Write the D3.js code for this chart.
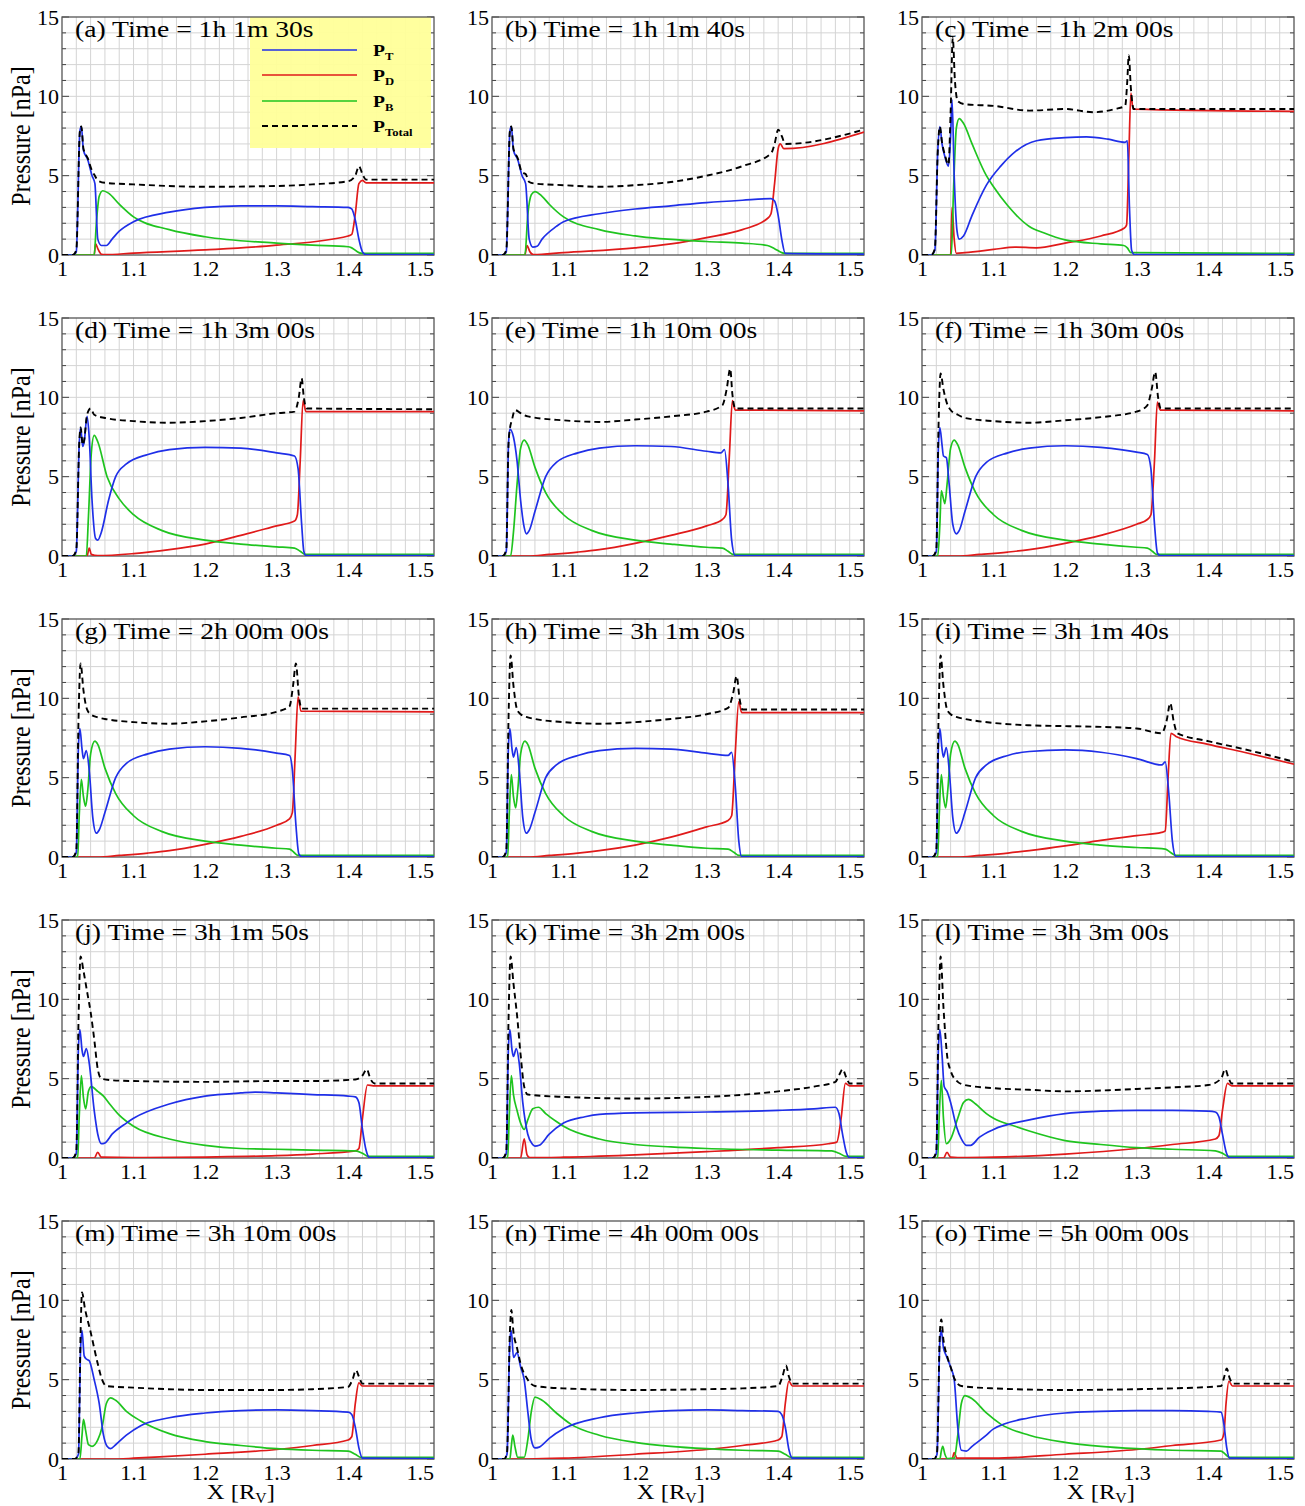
<!DOCTYPE html>
<html><head><meta charset="utf-8">
<script src="https://cdn.jsdelivr.net/npm/d3@7"></script>
<style>body{margin:0;background:#fff}svg{display:block}text{font-family:"Liberation Serif","DejaVu Serif",serif}</style>
</head><body><div id="chart"></div>
<script>
// ---------------- DATA ----------------
const panelLabels = ["(a) Time = 1h 1m 30s","(b) Time = 1h 1m 40s","(c) Time = 1h 2m 00s",
"(d) Time = 1h 3m 00s","(e) Time = 1h 10m 00s","(f) Time = 1h 30m 00s",
"(g) Time = 2h 00m 00s","(h) Time = 3h 1m 30s","(i) Time = 3h 1m 40s",
"(j) Time = 3h 1m 50s","(k) Time = 3h 2m 00s","(l) Time = 3h 3m 00s",
"(m) Time = 3h 10m 00s","(n) Time = 4h 00m 00s","(o) Time = 5h 00m 00s"];
const xTicks = [1,1.1,1.2,1.3,1.4,1.5];
const xTickLabels = ["1","1.1","1.2","1.3","1.4","1.5"];
const yTicks = [0,5,10,15];
const seriesNames = ["T","D","B","Total"];

// (a)
const PT_a=[[1,0],[1.015,0],[1.02,0.2],[1.025,7.8],[1.027,8.1],[1.03,6.6],[1.036,6.0],[1.042,5.0],[1.046,4.5],[1.05,1.0],[1.055,0.6],[1.062,0.6],[1.07,1.0],[1.08,1.5],[1.1,2.1],[1.15,2.7],[1.2,3.0],[1.25,3.1],[1.3,3.1],[1.35,3.05],[1.4,3.0],[1.405,2.9],[1.41,2.2],[1.415,1.0],[1.42,0.2],[1.425,0.02],[1.52,0.02]];
const PD_a=[[1,0],[1.045,0],[1.047,0.7],[1.05,0.4],[1.055,0.05],[1.06,0.02],[1.1,0.12],[1.2,0.32],[1.3,0.62],[1.4,1.2],[1.405,1.3],[1.41,2.6],[1.415,4.5],[1.42,4.7],[1.425,4.55],[1.52,4.55]];
const PB_a=[[1,0],[1.045,0],[1.048,2.0],[1.052,3.7],[1.057,4.05],[1.065,3.9],[1.08,3.2],[1.1,2.4],[1.15,1.6],[1.2,1.15],[1.3,0.75],[1.35,0.62],[1.4,0.52],[1.405,0.45],[1.415,0.15],[1.42,0.1],[1.52,0.1]];
const PTot_a=[[1,0],[1.015,0],[1.02,0.3],[1.025,7.8],[1.027,8.1],[1.03,6.7],[1.036,6.1],[1.042,5.3],[1.046,5.0],[1.05,4.7],[1.06,4.55],[1.1,4.45],[1.2,4.3],[1.3,4.35],[1.35,4.45],[1.4,4.65],[1.41,5.0],[1.415,5.6],[1.42,5.1],[1.425,4.75],[1.52,4.75]];
// (b)
const PT_b=[[1,0],[1.015,0],[1.02,0.2],[1.025,7.8],[1.027,8.1],[1.03,6.6],[1.036,6.0],[1.042,5.0],[1.047,4.5],[1.052,1.0],[1.057,0.5],[1.063,0.55],[1.07,1.0],[1.09,1.8],[1.1,2.1],[1.15,2.6],[1.2,2.9],[1.25,3.1],[1.3,3.3],[1.35,3.45],[1.39,3.55],[1.395,3.4],[1.4,2.5],[1.405,1.0],[1.41,0.1],[1.52,0.05]];
const PD_b=[[1,0],[1.046,0],[1.049,0.6],[1.053,0.2],[1.058,0.02],[1.1,0.15],[1.2,0.45],[1.25,0.7],[1.3,1.1],[1.35,1.6],[1.385,2.3],[1.39,2.6],[1.395,4.5],[1.4,6.7],[1.403,7.0],[1.408,6.7],[1.52,7.75]];
const PB_b=[[1,0],[1.046,0],[1.05,2.5],[1.055,3.8],[1.06,4.0],[1.07,3.7],[1.08,3.2],[1.1,2.4],[1.15,1.6],[1.2,1.2],[1.3,0.85],[1.35,0.75],[1.385,0.6],[1.395,0.4],[1.405,0.15],[1.41,0.1],[1.52,0.1]];
const PTot_b=[[1,0],[1.015,0],[1.02,0.3],[1.025,7.8],[1.027,8.1],[1.03,6.7],[1.036,6.1],[1.042,5.2],[1.047,5.1],[1.052,4.6],[1.06,4.5],[1.1,4.4],[1.15,4.3],[1.2,4.4],[1.25,4.6],[1.3,5.0],[1.35,5.6],[1.39,6.4],[1.395,7.0],[1.4,7.9],[1.405,7.5],[1.41,7.0],[1.52,7.9]];
// (c)
const PT_c=[[1,0],[1.013,0],[1.018,0.3],[1.022,6.5],[1.025,8.1],[1.028,7.0],[1.032,6.2],[1.037,5.6],[1.04,7.5],[1.042,9.8],[1.045,5.0],[1.049,1.5],[1.052,1.0],[1.058,1.2],[1.07,2.5],[1.09,4.4],[1.11,5.6],[1.13,6.5],[1.16,7.2],[1.2,7.4],[1.23,7.45],[1.26,7.3],[1.284,7.1],[1.287,7.2],[1.29,3.0],[1.293,0.3],[1.297,0.02],[1.52,0.02]];
const PD_c=[[1,0],[1.04,0],[1.042,3.0],[1.045,1.0],[1.048,0.1],[1.06,0.15],[1.1,0.35],[1.13,0.5],[1.16,0.45],[1.2,0.75],[1.25,1.2],[1.283,1.7],[1.286,1.9],[1.289,6.0],[1.292,10.2],[1.295,9.2],[1.52,9.05]];
const PB_c=[[1,0],[1.041,0],[1.044,4.0],[1.048,8.0],[1.052,8.6],[1.058,8.3],[1.07,7.0],[1.09,5.0],[1.1,4.3],[1.12,3.1],[1.15,1.8],[1.17,1.4],[1.2,0.95],[1.25,0.7],[1.282,0.6],[1.287,0.45],[1.292,0.15],[1.52,0.1]];
const PTot_c=[[1,0],[1.013,0],[1.018,0.4],[1.022,6.5],[1.025,8.1],[1.028,7.1],[1.032,6.3],[1.037,5.7],[1.04,9.0],[1.043,13.7],[1.046,11.0],[1.05,9.7],[1.06,9.5],[1.1,9.4],[1.15,9.1],[1.2,9.2],[1.24,9.0],[1.27,9.2],[1.284,9.4],[1.287,11.0],[1.289,12.6],[1.292,10.5],[1.296,9.2],[1.52,9.2]];
// (d)
const PT_d=[[1,0],[1.015,0],[1.02,0.3],[1.024,7.0],[1.026,8.1],[1.029,6.9],[1.031,7.2],[1.035,8.8],[1.038,7.5],[1.042,3.5],[1.047,1.1],[1.05,1.0],[1.055,1.5],[1.065,3.5],[1.075,5.0],[1.09,5.8],[1.12,6.4],[1.15,6.7],[1.2,6.85],[1.25,6.8],[1.3,6.5],[1.325,6.3],[1.33,5.5],[1.335,2.0],[1.338,0.3],[1.341,0.02],[1.52,0.02]];
const PD_d=[[1,0],[1.035,0],[1.038,0.5],[1.041,0.1],[1.05,0.02],[1.1,0.15],[1.15,0.4],[1.2,0.75],[1.25,1.3],[1.3,1.9],[1.325,2.2],[1.329,2.6],[1.333,6.0],[1.337,9.8],[1.341,9.1],[1.52,9.1]];
const PB_d=[[1,0],[1.034,0],[1.037,2.5],[1.041,6.5],[1.045,7.6],[1.05,7.2],[1.063,5.0],[1.08,3.6],[1.1,2.6],[1.14,1.6],[1.2,1.0],[1.25,0.75],[1.3,0.58],[1.325,0.5],[1.333,0.3],[1.34,0.1],[1.52,0.1]];
const PTot_d=[[1,0],[1.015,0],[1.02,0.4],[1.024,7.0],[1.026,8.1],[1.029,7.0],[1.031,7.3],[1.035,8.9],[1.04,9.3],[1.045,8.9],[1.06,8.7],[1.1,8.5],[1.15,8.4],[1.2,8.5],[1.25,8.7],[1.3,9.0],[1.325,9.1],[1.331,10.0],[1.335,11.2],[1.338,10.0],[1.342,9.3],[1.52,9.25]];
// (e)
const PT_e=[[1,0],[1.015,0],[1.02,0.3],[1.023,7.0],[1.025,8.0],[1.03,7.5],[1.035,6.0],[1.04,3.5],[1.045,1.8],[1.048,1.4],[1.052,1.6],[1.06,2.8],[1.075,5.0],[1.09,5.9],[1.12,6.5],[1.15,6.8],[1.2,6.95],[1.25,6.9],[1.3,6.6],[1.32,6.5],[1.325,6.7],[1.33,4.5],[1.335,1.0],[1.34,0.02],[1.52,0.02]];
const PD_e=[[1,0],[1.05,0],[1.08,0.1],[1.12,0.25],[1.15,0.4],[1.2,0.8],[1.25,1.3],[1.3,1.9],[1.322,2.3],[1.327,2.6],[1.332,6.5],[1.336,9.8],[1.34,9.2],[1.52,9.15]];
const PB_e=[[1,0],[1.026,0],[1.03,1.5],[1.035,4.5],[1.04,6.8],[1.045,7.3],[1.05,7.0],[1.06,5.6],[1.075,4.0],[1.1,2.6],[1.14,1.6],[1.2,1.0],[1.25,0.75],[1.3,0.55],[1.322,0.5],[1.33,0.3],[1.337,0.1],[1.52,0.1]];
const PTot_e=[[1,0],[1.015,0],[1.02,0.4],[1.023,7.0],[1.025,8.0],[1.028,8.6],[1.032,9.2],[1.04,9.0],[1.05,8.8],[1.1,8.55],[1.15,8.45],[1.2,8.6],[1.25,8.8],[1.3,9.1],[1.322,9.5],[1.328,10.5],[1.333,11.8],[1.336,10.2],[1.34,9.3],[1.52,9.3]];
// (f)
const PT_f=[[1,0],[1.015,0],[1.02,0.3],[1.023,7.0],[1.025,8.1],[1.028,7.0],[1.03,6.3],[1.034,6.2],[1.038,4.5],[1.043,2.0],[1.048,1.4],[1.052,1.6],[1.06,2.8],[1.075,5.0],[1.09,5.9],[1.12,6.5],[1.15,6.8],[1.2,6.95],[1.25,6.85],[1.3,6.55],[1.315,6.4],[1.32,5.5],[1.325,2.0],[1.329,0.2],[1.333,0.02],[1.52,0.02]];
const PD_f=[[1,0],[1.05,0],[1.08,0.1],[1.12,0.25],[1.15,0.4],[1.2,0.8],[1.25,1.3],[1.3,2.0],[1.315,2.3],[1.32,2.6],[1.325,6.0],[1.329,9.7],[1.333,9.2],[1.52,9.15]];
const PB_f=[[1,0],[1.022,0],[1.025,2.0],[1.027,4.1],[1.03,3.6],[1.032,3.3],[1.035,4.5],[1.04,6.8],[1.045,7.3],[1.05,7.0],[1.06,5.6],[1.075,4.0],[1.1,2.6],[1.14,1.6],[1.2,1.0],[1.25,0.75],[1.3,0.55],[1.315,0.5],[1.322,0.3],[1.328,0.1],[1.52,0.1]];
const PTot_f=[[1,0],[1.015,0],[1.02,0.4],[1.023,8.0],[1.026,11.5],[1.03,10.5],[1.035,9.6],[1.04,9.2],[1.05,8.9],[1.06,8.7],[1.1,8.5],[1.15,8.4],[1.2,8.55],[1.25,8.75],[1.3,9.1],[1.315,9.5],[1.321,10.5],[1.326,11.6],[1.33,10.0],[1.334,9.3],[1.52,9.3]];
// (g)
const PT_g=[[1,0],[1.015,0],[1.02,0.3],[1.023,7.0],[1.025,8.1],[1.028,6.8],[1.03,6.2],[1.034,6.7],[1.038,5.5],[1.043,2.5],[1.048,1.5],[1.052,1.7],[1.06,2.8],[1.075,5.0],[1.09,5.9],[1.12,6.5],[1.15,6.8],[1.2,6.95],[1.25,6.85],[1.3,6.55],[1.318,6.4],[1.322,5.5],[1.327,2.0],[1.331,0.2],[1.335,0.02],[1.52,0.02]];
const PD_g=[[1,0],[1.05,0],[1.08,0.1],[1.12,0.25],[1.15,0.4],[1.2,0.8],[1.25,1.3],[1.3,2.0],[1.318,2.4],[1.322,2.8],[1.326,6.5],[1.33,10.1],[1.334,9.2],[1.52,9.15]];
const PB_g=[[1,0],[1.022,0],[1.024,2.5],[1.027,4.9],[1.03,3.8],[1.033,3.2],[1.036,4.2],[1.04,6.5],[1.046,7.3],[1.05,7.1],[1.06,5.6],[1.075,4.0],[1.1,2.6],[1.14,1.6],[1.2,1.0],[1.25,0.75],[1.3,0.55],[1.318,0.5],[1.324,0.3],[1.33,0.1],[1.52,0.1]];
const PTot_g=[[1,0],[1.015,0],[1.02,0.4],[1.023,8.5],[1.026,12.2],[1.03,10.5],[1.035,9.3],[1.04,9.0],[1.05,8.8],[1.06,8.7],[1.1,8.5],[1.15,8.4],[1.2,8.55],[1.25,8.8],[1.3,9.15],[1.318,9.5],[1.323,10.8],[1.327,12.2],[1.331,10.2],[1.335,9.35],[1.52,9.35]];
// (h)
const PT_h=[[1,0],[1.015,0],[1.02,0.3],[1.023,7.0],[1.025,8.1],[1.028,6.8],[1.03,6.3],[1.034,6.9],[1.038,5.5],[1.043,2.5],[1.048,1.5],[1.052,1.7],[1.06,2.8],[1.075,5.0],[1.09,5.8],[1.12,6.4],[1.15,6.7],[1.2,6.85],[1.25,6.8],[1.3,6.55],[1.33,6.4],[1.335,6.6],[1.34,4.5],[1.345,1.0],[1.349,0.02],[1.52,0.02]];
const PD_h=[[1,0],[1.05,0],[1.08,0.1],[1.12,0.25],[1.15,0.4],[1.2,0.75],[1.25,1.25],[1.3,1.9],[1.33,2.3],[1.335,2.6],[1.34,6.5],[1.345,9.8],[1.349,9.1],[1.52,9.1]];
const PB_h=[[1,0],[1.022,0],[1.024,2.5],[1.027,5.2],[1.03,3.8],[1.033,3.1],[1.036,4.2],[1.04,6.5],[1.046,7.3],[1.05,7.1],[1.06,5.6],[1.075,4.0],[1.1,2.6],[1.14,1.6],[1.2,1.0],[1.25,0.75],[1.3,0.55],[1.33,0.5],[1.338,0.3],[1.345,0.1],[1.52,0.1]];
const PTot_h=[[1,0],[1.015,0],[1.02,0.4],[1.023,8.5],[1.026,12.7],[1.03,10.8],[1.035,9.3],[1.04,9.0],[1.05,8.8],[1.06,8.7],[1.1,8.5],[1.15,8.4],[1.2,8.5],[1.25,8.7],[1.3,9.0],[1.33,9.4],[1.337,10.3],[1.342,11.4],[1.346,10.0],[1.35,9.3],[1.52,9.3]];
// (i)
const PT_i=[[1,0],[1.015,0],[1.02,0.3],[1.023,7.0],[1.025,8.1],[1.028,6.8],[1.03,6.3],[1.034,6.9],[1.038,5.5],[1.043,2.5],[1.048,1.5],[1.052,1.7],[1.06,2.8],[1.075,5.0],[1.09,5.8],[1.12,6.4],[1.15,6.65],[1.2,6.75],[1.25,6.6],[1.3,6.2],[1.335,5.8],[1.34,6.0],[1.345,4.0],[1.35,1.0],[1.355,0.02],[1.52,0.02]];
const PD_i=[[1,0],[1.05,0],[1.08,0.1],[1.12,0.25],[1.15,0.4],[1.2,0.7],[1.25,1.05],[1.3,1.35],[1.335,1.55],[1.34,1.65],[1.344,5.0],[1.348,7.8],[1.355,7.6],[1.4,7.1],[1.45,6.6],[1.52,5.85]];
const PB_i=[[1,0],[1.022,0],[1.024,2.5],[1.027,5.2],[1.03,3.8],[1.033,3.1],[1.036,4.2],[1.04,6.5],[1.046,7.3],[1.05,7.1],[1.06,5.6],[1.075,4.0],[1.1,2.6],[1.14,1.6],[1.2,1.0],[1.25,0.75],[1.3,0.6],[1.34,0.5],[1.347,0.3],[1.355,0.1],[1.52,0.1]];
const PTot_i=[[1,0],[1.015,0],[1.02,0.4],[1.023,8.5],[1.026,12.7],[1.03,10.8],[1.035,9.3],[1.04,9.0],[1.05,8.8],[1.06,8.7],[1.1,8.45],[1.15,8.3],[1.2,8.25],[1.25,8.2],[1.3,8.1],[1.335,7.8],[1.342,8.6],[1.347,9.7],[1.352,8.5],[1.357,7.8],[1.4,7.3],[1.45,6.8],[1.52,6.0]];
// (j)
const PT_j=[[1,0],[1.015,0],[1.02,0.3],[1.023,7.0],[1.025,8.1],[1.028,6.8],[1.03,6.4],[1.034,6.9],[1.038,6.0],[1.045,3.0],[1.05,1.5],[1.055,0.9],[1.06,0.95],[1.07,1.5],[1.09,2.2],[1.1,2.5],[1.15,3.4],[1.2,3.9],[1.25,4.1],[1.27,4.15],[1.3,4.1],[1.35,4.0],[1.4,3.9],[1.41,3.85],[1.415,3.5],[1.42,1.8],[1.425,0.5],[1.43,0.02],[1.52,0.02]];
const PD_j=[[1,0],[1.045,0],[1.05,0.35],[1.055,0.05],[1.1,0.02],[1.2,0.06],[1.3,0.15],[1.35,0.25],[1.41,0.45],[1.415,0.6],[1.42,2.5],[1.427,4.6],[1.435,4.55],[1.52,4.55]];
const PB_j=[[1,0],[1.022,0],[1.024,2.5],[1.027,5.2],[1.03,3.8],[1.033,3.1],[1.037,4.2],[1.041,4.5],[1.05,4.2],[1.058,3.9],[1.065,3.5],[1.08,2.7],[1.1,2.0],[1.15,1.2],[1.2,0.8],[1.25,0.6],[1.3,0.55],[1.35,0.5],[1.41,0.45],[1.42,0.3],[1.428,0.1],[1.52,0.1]];
const PTot_j=[[1,0],[1.015,0],[1.02,0.4],[1.023,8.5],[1.026,12.7],[1.03,11.8],[1.035,10.5],[1.04,9.2],[1.045,7.5],[1.05,5.6],[1.055,5.0],[1.07,4.9],[1.1,4.85],[1.2,4.8],[1.3,4.85],[1.35,4.85],[1.41,4.95],[1.42,5.2],[1.426,5.6],[1.431,5.0],[1.437,4.7],[1.52,4.7]];
// (k)
const PT_k=[[1,0],[1.015,0],[1.02,0.3],[1.023,7.0],[1.025,8.1],[1.028,6.8],[1.03,6.4],[1.034,6.9],[1.038,6.0],[1.043,3.5],[1.05,1.5],[1.056,0.9],[1.06,0.75],[1.066,0.8],[1.08,1.5],[1.1,2.2],[1.13,2.6],[1.15,2.75],[1.2,2.85],[1.3,2.9],[1.4,3.0],[1.45,3.1],[1.48,3.2],[1.485,2.8],[1.49,1.5],[1.495,0.4],[1.5,0.02],[1.52,0.02]];
const PD_k=[[1,0],[1.04,0],[1.045,1.2],[1.049,0.2],[1.053,0.02],[1.1,0.05],[1.2,0.2],[1.3,0.4],[1.4,0.65],[1.47,0.9],[1.482,1.0],[1.488,2.5],[1.494,4.7],[1.5,4.55],[1.52,4.55]];
const PB_k=[[1,0],[1.022,0],[1.024,2.5],[1.027,5.2],[1.03,4.0],[1.035,3.0],[1.04,2.2],[1.045,1.8],[1.05,2.4],[1.057,3.1],[1.065,3.2],[1.075,2.8],[1.09,2.3],[1.1,2.0],[1.15,1.2],[1.2,0.85],[1.25,0.7],[1.3,0.6],[1.4,0.5],[1.475,0.45],[1.485,0.3],[1.495,0.1],[1.52,0.1]];
const PTot_k=[[1,0],[1.015,0],[1.02,0.4],[1.023,8.5],[1.026,12.7],[1.03,11.0],[1.035,9.0],[1.04,6.5],[1.045,4.5],[1.05,4.0],[1.1,3.85],[1.2,3.75],[1.3,3.85],[1.4,4.2],[1.45,4.5],[1.48,4.8],[1.486,5.3],[1.49,5.6],[1.495,5.1],[1.5,4.7],[1.52,4.7]];
// (l)
const PT_l=[[1,0],[1.015,0],[1.02,0.3],[1.023,7.0],[1.025,8.1],[1.028,6.5],[1.031,4.5],[1.035,4.2],[1.04,3.5],[1.048,2.0],[1.055,1.2],[1.062,0.8],[1.068,0.8],[1.08,1.3],[1.1,1.8],[1.15,2.4],[1.2,2.8],[1.25,2.95],[1.3,3.0],[1.35,3.0],[1.4,2.95],[1.41,2.9],[1.415,2.6],[1.42,1.5],[1.425,0.4],[1.43,0.02],[1.52,0.02]];
const PD_l=[[1,0],[1.03,0],[1.035,0.35],[1.04,0.05],[1.05,0.02],[1.1,0.05],[1.2,0.25],[1.3,0.6],[1.35,0.85],[1.41,1.2],[1.415,1.4],[1.42,3.0],[1.427,4.7],[1.433,4.55],[1.52,4.55]];
const PB_l=[[1,0],[1.022,0],[1.024,2.5],[1.027,4.9],[1.03,2.5],[1.034,0.9],[1.04,1.2],[1.05,2.5],[1.058,3.5],[1.065,3.7],[1.075,3.4],[1.09,2.8],[1.1,2.5],[1.13,2.0],[1.15,1.7],[1.2,1.1],[1.25,0.85],[1.3,0.65],[1.35,0.55],[1.41,0.45],[1.42,0.3],[1.428,0.1],[1.52,0.1]];
const PTot_l=[[1,0],[1.015,0],[1.02,0.4],[1.023,8.5],[1.026,12.7],[1.03,9.5],[1.035,6.5],[1.04,5.5],[1.05,4.8],[1.06,4.6],[1.1,4.4],[1.15,4.3],[1.2,4.2],[1.3,4.35],[1.35,4.45],[1.4,4.6],[1.418,5.0],[1.424,5.6],[1.428,5.1],[1.433,4.7],[1.52,4.7]];
// (m)
const PT_m=[[1,0],[1.018,0],[1.023,0.3],[1.026,7.0],[1.028,8.1],[1.031,6.5],[1.034,6.3],[1.038,6.2],[1.045,5.0],[1.052,3.5],[1.058,1.5],[1.063,0.8],[1.068,0.65],[1.075,0.9],[1.09,1.5],[1.11,2.1],[1.15,2.6],[1.2,2.9],[1.25,3.05],[1.3,3.1],[1.35,3.05],[1.4,2.95],[1.405,2.8],[1.41,2.0],[1.415,0.7],[1.42,0.05],[1.52,0.02]];
const PD_m=[[1,0],[1.08,0],[1.1,0.05],[1.2,0.3],[1.3,0.6],[1.35,0.85],[1.4,1.2],[1.405,1.4],[1.41,3.5],[1.415,4.8],[1.42,4.6],[1.52,4.6]];
const PB_m=[[1,0],[1.025,0],[1.028,1.5],[1.03,2.5],[1.033,1.8],[1.037,0.9],[1.042,0.8],[1.05,1.2],[1.056,2.0],[1.062,3.5],[1.068,3.85],[1.075,3.7],[1.09,3.0],[1.11,2.4],[1.15,1.6],[1.2,1.1],[1.25,0.85],[1.3,0.65],[1.35,0.55],[1.4,0.5],[1.41,0.3],[1.418,0.1],[1.52,0.1]];
const PTot_m=[[1,0],[1.018,0],[1.023,0.4],[1.026,8.0],[1.028,10.5],[1.032,9.5],[1.04,8.0],[1.05,6.0],[1.056,5.0],[1.062,4.6],[1.1,4.5],[1.2,4.35],[1.3,4.35],[1.35,4.4],[1.4,4.55],[1.406,5.0],[1.411,5.6],[1.415,5.2],[1.42,4.75],[1.52,4.75]];
// (n)
const PT_n=[[1,0],[1.017,0],[1.021,0.3],[1.025,7.5],[1.027,8.1],[1.03,6.4],[1.035,6.7],[1.04,5.8],[1.045,5.0],[1.05,3.0],[1.055,1.2],[1.06,0.7],[1.066,0.75],[1.08,1.3],[1.1,1.9],[1.15,2.6],[1.2,2.9],[1.25,3.05],[1.3,3.1],[1.35,3.05],[1.4,3.0],[1.405,2.8],[1.41,2.0],[1.415,0.6],[1.42,0.05],[1.52,0.02]];
const PD_n=[[1,0],[1.05,0],[1.1,0.05],[1.2,0.3],[1.3,0.6],[1.35,0.85],[1.4,1.2],[1.405,1.4],[1.41,3.5],[1.415,4.9],[1.42,4.6],[1.52,4.6]];
const PB_n=[[1,0],[1.025,0],[1.027,0.8],[1.029,1.5],[1.032,0.8],[1.036,0.1],[1.045,0.1],[1.05,1.2],[1.055,3.0],[1.06,3.9],[1.07,3.7],[1.09,2.9],[1.11,2.2],[1.15,1.5],[1.2,1.05],[1.25,0.8],[1.3,0.65],[1.35,0.55],[1.4,0.5],[1.41,0.3],[1.418,0.1],[1.52,0.1]];
const PTot_n=[[1,0],[1.017,0],[1.021,0.4],[1.025,8.0],[1.027,9.4],[1.03,8.0],[1.035,7.0],[1.04,6.0],[1.05,5.0],[1.06,4.6],[1.1,4.45],[1.2,4.35],[1.3,4.4],[1.35,4.45],[1.4,4.6],[1.406,5.2],[1.411,5.9],[1.415,5.2],[1.42,4.75],[1.52,4.75]];
// (o)
const PT_o=[[1,0],[1.017,0],[1.021,0.3],[1.025,7.5],[1.027,8.1],[1.03,7.0],[1.034,6.5],[1.04,5.8],[1.045,5.0],[1.05,2.0],[1.055,0.55],[1.062,0.5],[1.07,0.8],[1.09,1.5],[1.1,1.9],[1.15,2.6],[1.2,2.9],[1.25,3.0],[1.3,3.05],[1.35,3.05],[1.4,3.0],[1.418,2.95],[1.422,2.2],[1.426,0.7],[1.43,0.05],[1.52,0.02]];
const PD_o=[[1,0],[1.042,0],[1.045,0.4],[1.049,0.05],[1.1,0.05],[1.2,0.3],[1.3,0.6],[1.35,0.85],[1.418,1.2],[1.422,1.6],[1.425,3.5],[1.429,4.9],[1.434,4.6],[1.52,4.6]];
const PB_o=[[1,0],[1.025,0],[1.027,0.5],[1.029,0.8],[1.032,0.3],[1.036,0.02],[1.045,0.05],[1.05,1.5],[1.055,3.5],[1.06,4.0],[1.07,3.8],[1.09,2.9],[1.11,2.2],[1.15,1.5],[1.2,1.05],[1.25,0.8],[1.3,0.65],[1.35,0.55],[1.418,0.5],[1.424,0.3],[1.43,0.1],[1.52,0.1]];
const PTot_o=[[1,0],[1.017,0],[1.021,0.4],[1.025,8.0],[1.027,8.8],[1.03,7.5],[1.035,6.5],[1.04,5.8],[1.045,5.1],[1.055,4.6],[1.1,4.45],[1.2,4.35],[1.3,4.4],[1.35,4.45],[1.418,4.6],[1.422,5.1],[1.426,5.7],[1.43,5.1],[1.435,4.75],[1.52,4.75]];

const panelSeries = [
 [PT_a,PD_a,PB_a,PTot_a],[PT_b,PD_b,PB_b,PTot_b],[PT_c,PD_c,PB_c,PTot_c],
 [PT_d,PD_d,PB_d,PTot_d],[PT_e,PD_e,PB_e,PTot_e],[PT_f,PD_f,PB_f,PTot_f],
 [PT_g,PD_g,PB_g,PTot_g],[PT_h,PD_h,PB_h,PTot_h],[PT_i,PD_i,PB_i,PTot_i],
 [PT_j,PD_j,PB_j,PTot_j],[PT_k,PD_k,PB_k,PTot_k],[PT_l,PD_l,PB_l,PTot_l],
 [PT_m,PD_m,PB_m,PTot_m],[PT_n,PD_n,PB_n,PTot_n],[PT_o,PD_o,PB_o,PTot_o]];

// ---------------- DRAW ----------------
const W=1305,H=1506;
const colors=["#1f2fe8","#e01a1a","#1fc41f","#000"];
const svg=d3.select("#chart").append("svg").attr("width",W).attr("height",H);
const colX=[62,492,922], pw=372, rowY=[17,318,619,920,1221], ph=238;

const defs=svg.append("defs");
panelSeries.forEach((ser,i)=>{
  const c=i%3, r=Math.floor(i/3);
  const x0=colX[c], y0=rowY[r];
  const x=d3.scaleLinear().domain([1,1.52]).range([x0,x0+pw]);
  const y=d3.scaleLinear().domain([0,15]).range([y0+ph,y0]);
  const g=svg.append("g");
  // grid
  const gx=d3.range(1.02,1.52,0.02);
  g.selectAll(null).data(gx).enter().append("line")
   .attr("x1",d=>x(d)).attr("x2",d=>x(d)).attr("y1",y0).attr("y2",y0+ph)
   .attr("stroke","#d4d4d4").attr("stroke-width",1);
  g.selectAll(null).data(d3.range(1,15)).enter().append("line")
   .attr("y1",d=>y(d)).attr("y2",d=>y(d)).attr("x1",x0).attr("x2",x0+pw)
   .attr("stroke","#d4d4d4").attr("stroke-width",1);
  // tick marks (inside) on left/right
  d3.range(0,16).forEach(v=>{
    const len = v%5===0?7:4;
    g.append("line").attr("x1",x0).attr("x2",x0+len).attr("y1",y(v)).attr("y2",y(v)).attr("stroke","#444");
    g.append("line").attr("x1",x0+pw).attr("x2",x0+pw-len).attr("y1",y(v)).attr("y2",y(v)).attr("stroke","#444");
  });
  // legend box in panel a (behind lines)
  if(i===0){
    g.append("rect").attr("x",250).attr("y",y0).attr("width",181).attr("height",131)
     .attr("fill","#ffff99").attr("opacity",0.95);
  }
  // frame
  g.append("rect").attr("x",x0).attr("y",y0).attr("width",pw).attr("height",ph)
   .attr("fill","none").attr("stroke","#555").attr("stroke-width",1.3);
  // axes labels
  const xa=d3.axisBottom(x).tickValues(xTicks).tickFormat((d,k)=>xTickLabels[k]).tickSize(0).tickPadding(5);
  const gxa=g.append("g").attr("transform",`translate(0,${y0+ph})`).call(xa);
  gxa.select(".domain").remove();
  gxa.selectAll("text").attr("font-size",22).attr("fill","#000").attr("font-family","Liberation Serif, serif");
  const ya=d3.axisLeft(y).tickValues(yTicks).tickSize(0).tickPadding(3);
  const gya=g.append("g").attr("transform",`translate(${x0},0)`).call(ya);
  gya.select(".domain").remove();
  gya.selectAll("text").attr("font-size",22).attr("fill","#000").attr("font-family","Liberation Serif, serif");
  // clip
  const cid="clip"+i;
  defs.append("clipPath").attr("id",cid).append("rect").attr("x",x0).attr("y",y0).attr("width",pw).attr("height",ph);
  const line=d3.line().x(d=>x(d[0])).y(d=>y(d[1])).curve(d3.curveMonotoneX);
  const lg=g.append("g").attr("clip-path",`url(#${cid})`);
  [1,2,0,3].forEach(k=>{
    lg.append("path").attr("d",line(ser[k])).attr("fill","none")
      .attr("stroke",colors[k]).attr("stroke-width",k===3?1.9:1.7)
      .attr("stroke-dasharray",k===3?"6,4":null).attr("stroke-linejoin","round");
  });
  // title
  g.append("text").attr("transform",`translate(${x0+13},${y0+20}) scale(1.2,1)`)
   .attr("font-size",23).attr("fill","#000").text(panelLabels[i]);
  // y label
  if(c===0){
    g.append("text").attr("transform",`translate(${30},${y0+ph/2}) rotate(-90) scale(1,1.15)`)
     .attr("text-anchor","middle").attr("font-size",24).text("Pressure [nPa]");
  }
  // x label
  if(r===4){
    const t=g.append("text").attr("transform",`translate(${x(1.25)},${y0+ph+40}) scale(1.12,1)`)
      .attr("text-anchor","middle").attr("font-size",22);
    t.append("tspan").text("X [R");
    t.append("tspan").attr("font-size",14).attr("dy",4).text("V");
    t.append("tspan").attr("dy",-4).text("]");
  }
  // legend
  if(i===0){
    const ly=[50,75,101,126];
    seriesNames.forEach((nm,k)=>{
      g.append("line").attr("x1",262).attr("x2",357).attr("y1",ly[k]).attr("y2",ly[k])
       .attr("stroke",colors[k]).attr("stroke-width",k===3?1.9:1.7).attr("stroke-dasharray",k===3?"6,4":null);
      const t=g.append("text").attr("transform",`translate(373,${ly[k]+6}) scale(1.15,1)`)
        .attr("font-size",17).attr("font-weight","bold");
      t.append("tspan").text("P");
      t.append("tspan").attr("font-size",11).attr("dy",4).text(nm);
    });
  }
});
</script></body></html>
